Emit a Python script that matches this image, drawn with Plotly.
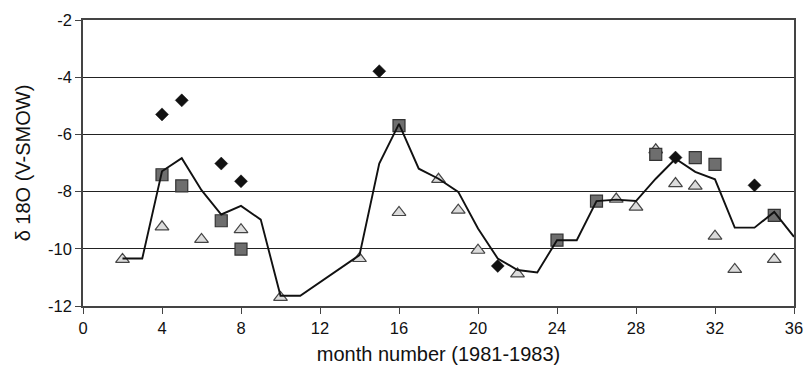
import plotly.graph_objects as go

# Monthly δ18O values, 1981-1983
line_month = [2, 3, 4, 5, 6, 7, 8, 9, 10, 11, 14, 15, 16, 17, 18, 19, 20, 21, 22, 23,
              24, 25, 26, 27, 28, 29, 30, 31, 32, 33, 34, 35, 36]
line_d18o = [-10.34, -10.34, -7.29, -6.83, -7.95, -8.80, -8.50, -8.98, -11.64, -11.64,
             -10.22, -7.02, -5.63, -7.20, -7.55, -8.01, -9.29, -10.34, -10.74, -10.83,
             -9.70, -9.70, -8.33, -8.28, -8.33, -7.55, -6.85, -7.31, -7.57, -9.26,
             -9.26, -8.71, -9.58]

diamond_month = [4, 5, 7, 8, 15, 21, 30, 34]
diamond_d18o = [-5.30, -4.81, -7.02, -7.64, -3.79, -10.60, -6.81, -7.78]

square_month = [4, 5, 7, 8, 16, 24, 26, 29, 31, 32, 35]
square_d18o = [-7.41, -7.80, -9.02, -10.01, -5.69, -9.70, -8.33, -6.70, -6.81, -7.05, -8.83]

triangle_month = [2, 4, 6, 8, 10, 14, 16, 18, 19, 20, 22, 27, 28, 29, 30, 31, 32, 33, 35]
triangle_d18o = [-10.37, -9.23, -9.67, -9.33, -11.70, -10.34, -8.73, -7.57, -8.65, -10.05,
                 -10.88, -8.26, -8.54, -6.54, -7.72, -7.81, -9.56, -10.72, -10.37]

x_ticks = list(range(0, 37, 4))
y_ticks = list(range(-12, -1, 2))
y_tick_labels = ["-12", "-10", "-8", "-6", "-4", "-2"]

fig = go.Figure()

fig.add_trace(go.Scatter(
    x=triangle_month, y=triangle_d18o, mode="markers",
    marker=dict(symbol="triangle-up", size=12, color="#dcdcdc",
                line=dict(color="#444444", width=1.2)),
    showlegend=False))

fig.add_trace(go.Scatter(
    x=square_month, y=square_d18o, mode="markers",
    marker=dict(symbol="square", size=12, color="#6e6e6e",
                line=dict(color="#333333", width=1.2)),
    showlegend=False))

fig.add_trace(go.Scatter(
    x=diamond_month, y=diamond_d18o, mode="markers",
    marker=dict(symbol="diamond", size=10, color="#111111",
                line=dict(color="#111111", width=0.5)),
    showlegend=False))

fig.add_trace(go.Scatter(
    x=line_month, y=line_d18o, mode="lines",
    line=dict(color="#111111", width=1.9),
    showlegend=False))

font = dict(family="Liberation Sans, Arial, sans-serif", size=16.5, color="#111111")

fig.update_layout(
    width=806, height=369,
    margin=dict(l=83, r=12, t=20, b=63, autoexpand=False),
    paper_bgcolor="white", plot_bgcolor="white",
    font=font,
    xaxis=dict(
        range=[0, 36], tickvals=x_ticks, ticks="outside", ticklen=6,
        tickcolor="#444444", showgrid=False, zeroline=False, automargin=False,
        showline=True, linecolor="#444444", linewidth=1.5, mirror=True,
        title=dict(text="month number (1981-1983)", standoff=11),
    ),
    yaxis=dict(
        range=[-12, -2], tickvals=y_ticks, ticktext=y_tick_labels,
        ticks="outside", ticklen=6, automargin=False,
        tickcolor="#444444", showgrid=True, gridcolor="#222222", gridwidth=1.2,
        zeroline=False, showline=True, linecolor="#444444", linewidth=1.5,
        mirror=True,
        title=dict(text="δ 18O (V-SMOW)", standoff=12),
    ),
)

fig.write_html("out.html")
